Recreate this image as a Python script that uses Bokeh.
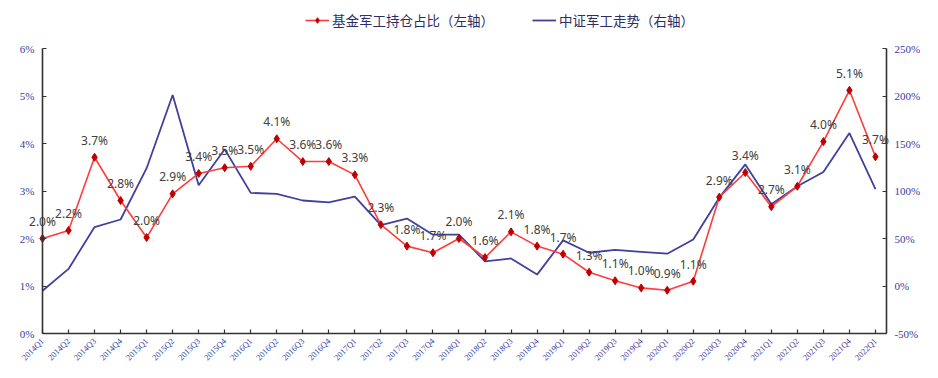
from bokeh.plotting import figure
from bokeh.models import (Range1d, LinearAxis, FixedTicker, PrintfTickFormatter,
                          ColumnDataSource, LabelSet, Legend, LegendItem)
from bokeh.core.properties import value
from bokeh.embed import file_html
from bokeh.resources import INLINE

quarters = ["2014Q1", "2014Q2", "2014Q3", "2014Q4",
            "2015Q1", "2015Q2", "2015Q3", "2015Q4",
            "2016Q1", "2016Q2", "2016Q3", "2016Q4",
            "2017Q1", "2017Q2", "2017Q3", "2017Q4",
            "2018Q1", "2018Q2", "2018Q3", "2018Q4",
            "2019Q1", "2019Q2", "2019Q3", "2019Q4",
            "2020Q1", "2020Q2", "2020Q3", "2020Q4",
            "2021Q1", "2021Q2", "2021Q3", "2021Q4",
            "2022Q1"]

# 基金军工持仓占比 (%), left axis
fund_share = [2.00, 2.17, 3.71, 2.80, 2.02, 2.94, 3.37, 3.49, 3.52, 4.10, 3.62, 3.62,
              3.34, 2.29, 1.84, 1.70, 2.00, 1.60, 2.14, 1.84, 1.67, 1.29, 1.11, 0.96,
              0.91, 1.10, 2.87, 3.39, 2.67, 3.10, 4.04, 5.12, 3.72]

# 中证军工走势 (%), right axis
index_trend = [-5, 18, 62, 70, 124, 201, 106, 144, 98, 97, 90, 88,
               94, 64, 71, 54, 54, 26, 29, 12, 48, 35, 38, 36,
               34, 49, 93, 128, 86, 105, 120, 161, 102]

left_ticks = [0, 1, 2, 3, 4, 5, 6]
right_ticks = [-50, 0, 50, 100, 150, 200, 250]

xs = list(range(len(quarters)))
src = ColumnDataSource(dict(
    x=xs, share=fund_share, idx=index_trend,
    lab=[f"{v:.1f}%" for v in fund_share]))

tick_col = "#3a3a9c"
axis_col = "#333333"

# plot geometry (pixels): axes box spans x 42..886, y 48..333
W, H = 930, 372
X_AXIS_END = 32.42          # category units where the right axis sits
px_per_cat = 26.03
frame_left, frame_right, frame_top, frame_bottom = 8, 928, 4, 370
axis_bottom_px = 333
x_start = -(42 - frame_left) / px_per_cat
x_end = (frame_right - 42) / px_per_cat
px_per_pct = 285 / 6.0
y_start = -(frame_bottom - axis_bottom_px) / px_per_pct
y_end = (axis_bottom_px - frame_top) / px_per_pct
r_scale = 300 / 285
r_start = -50 - (frame_bottom - axis_bottom_px) * r_scale
r_end = -50 + (axis_bottom_px - frame_top) * r_scale

p = figure(width=W, height=H, output_backend="svg", toolbar_location=None,
           x_range=Range1d(x_start, x_end), y_range=Range1d(y_start, y_end),
           x_axis_location=None, y_axis_location=None,
           min_border_left=frame_left, min_border_right=W - frame_right,
           min_border_top=frame_top, min_border_bottom=H - frame_bottom)
p.outline_line_color = None
p.xgrid.visible = False
p.ygrid.visible = False
p.background_fill_color = "white"
p.border_fill_color = "white"

p.extra_y_ranges = {"right": Range1d(r_start, r_end)}

xa = LinearAxis(ticker=FixedTicker(ticks=xs),
                major_label_overrides={i: q for i, q in enumerate(quarters)},
                major_label_orientation=0.785,
                fixed_location=0, bounds=(0, X_AXIS_END))
p.add_layout(xa, "below")

ya = LinearAxis(ticker=FixedTicker(ticks=left_ticks),
                formatter=PrintfTickFormatter(format="%d%%"),
                fixed_location=0, bounds=(0, 6))
p.add_layout(ya, "left")

ra = LinearAxis(y_range_name="right", ticker=FixedTicker(ticks=right_ticks),
                formatter=PrintfTickFormatter(format="%d%%"),
                fixed_location=X_AXIS_END, bounds=(-50, 250))
p.add_layout(ra, "right")

for ax in (ya, xa, ra):
    ax.axis_line_color = axis_col
    ax.axis_line_width = 1.6
    ax.major_tick_line_color = axis_col
    ax.major_tick_line_width = 1.2
    ax.major_tick_in = 4
    ax.major_tick_out = 0
    ax.minor_tick_line_color = None
    ax.major_label_text_color = tick_col
    ax.major_label_text_font = "Liberation Serif"
    ax.major_label_standoff = 8
for ax in (ya, ra):
    ax.major_label_text_font_size = "11px"
xa.major_label_text_font_size = "8.5px"
xa.major_label_standoff = 6

blue = p.line("x", "idx", source=src, y_range_name="right",
              line_color="#40409e", line_width=1.8)
red = p.line("x", "share", source=src, line_color="#ff3b3b", line_width=1.6)
redm = p.scatter("x", "share", source=src, marker="diamond", size=8,
                 fill_color="#c00000", line_color="#c00000")

labels = LabelSet(x="x", y="share", text="lab", source=src,
                  text_align="center", text_baseline="middle", y_offset=17,
                  text_font_size=value("12px"), text_font=value("Noto Sans"),
                  text_color="#404040")
p.add_layout(labels)

legend = Legend(items=[LegendItem(label="基金军工持仓占比（左轴）", renderers=[red, redm]),
                       LegendItem(label="中证军工走势（右轴）", renderers=[blue])],
                orientation="horizontal",
                location=(305 - frame_left, frame_bottom - 30),
                label_text_font="Noto Sans CJK SC", label_text_font_size="13.5px",
                label_text_color="#2e2e66", glyph_width=24, glyph_height=14,
                label_height=14, padding=2, spacing=38, label_standoff=3,
                margin=0, background_fill_alpha=0, border_line_color=None)
p.add_layout(legend, "center")

open("out.html", "w").write(file_html(p, INLINE))
